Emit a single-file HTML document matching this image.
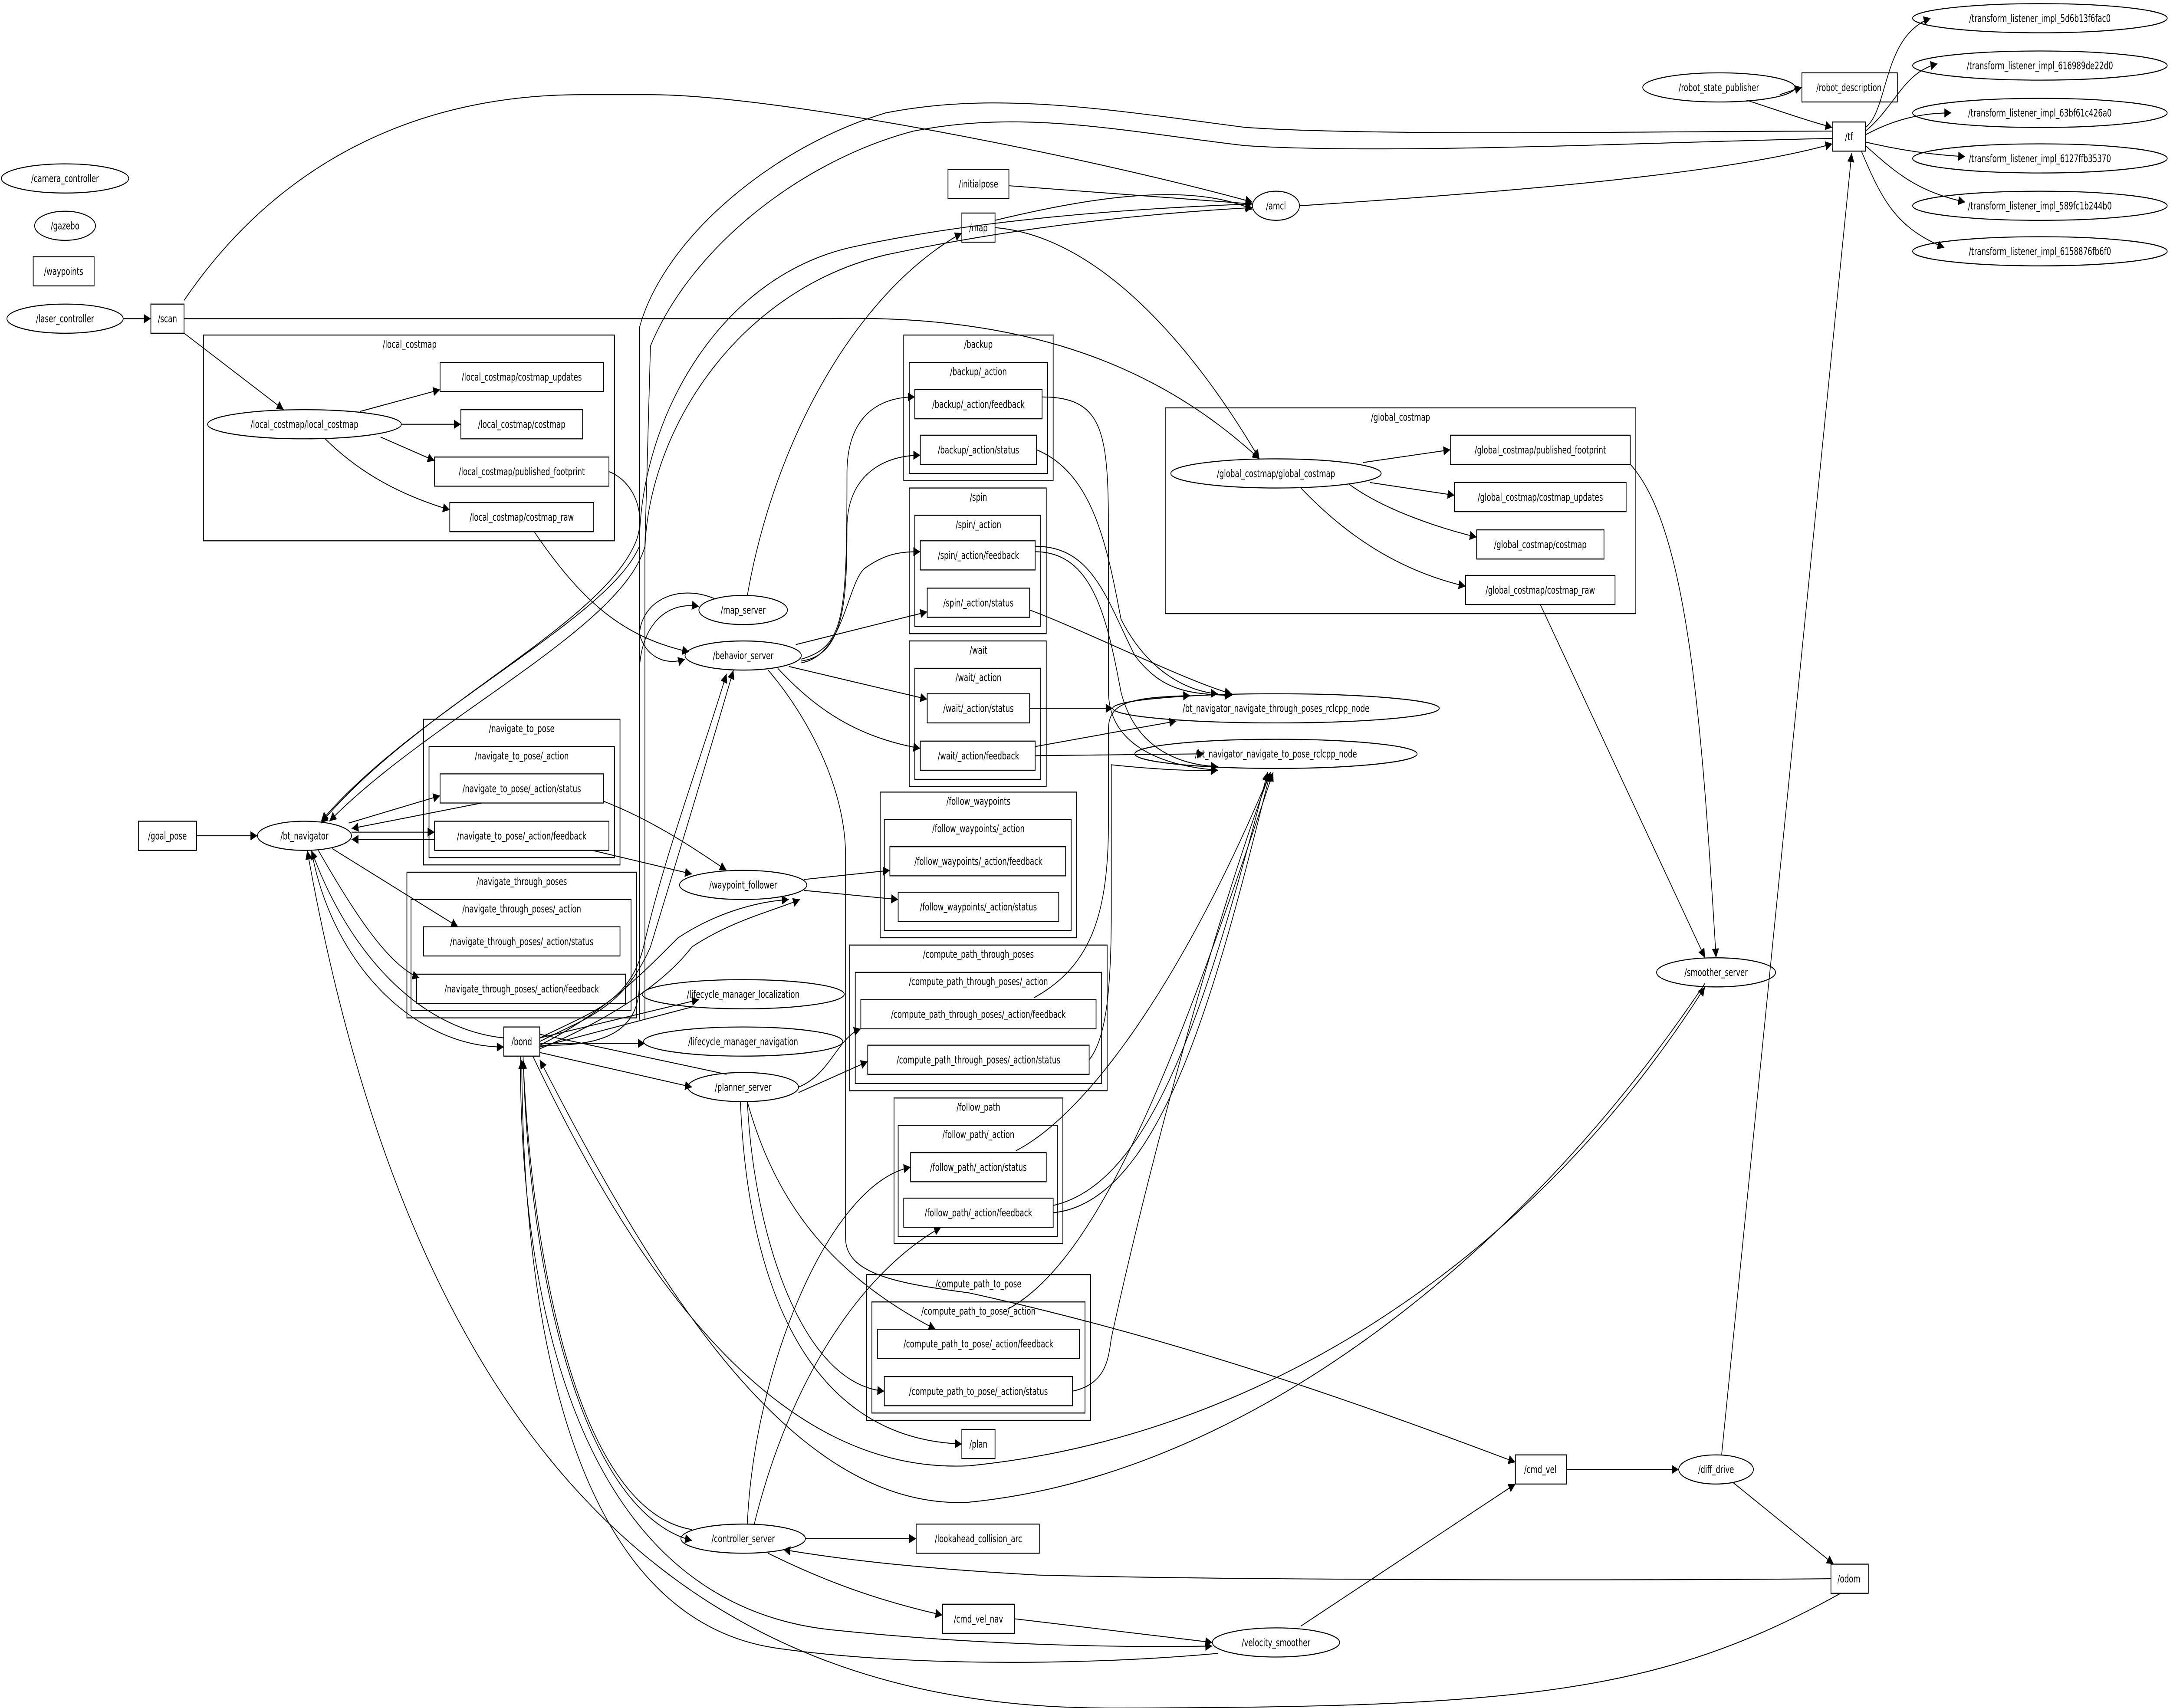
<!DOCTYPE html>
<html><head><meta charset="utf-8"><style>
html,body{margin:0;padding:0;background:#fff;width:100%;height:100%;overflow:hidden;}
svg{display:block;width:100vw;height:100vh;}
text{font-family:"DejaVu Sans Condensed","DejaVu Sans","Liberation Sans",sans-serif;font-stretch:condensed;font-size:5.8px;text-anchor:middle;fill:#000;}
.n{fill:none;stroke:#000;stroke-width:0.55;}
.e{fill:none;stroke:#000;stroke-width:0.5;}
.a{fill:none;stroke:#000;stroke-width:0.5;marker-end:url(#ar);}
</style></head><body>
<svg viewBox="0 0 1568 938" preserveAspectRatio="none" xmlns="http://www.w3.org/2000/svg">
<defs><marker id="ar" viewBox="0 0 10 10" refX="10" refY="5" markerWidth="7" markerHeight="5" markerUnits="userSpaceOnUse" orient="auto"><path d="M0,0L10,5L0,10z" fill="#000"/></marker></defs>
<rect width="1568" height="938" fill="#fff"/>

<g class="n">
<rect x="147" y="184" width="297" height="113"/>
<rect x="842" y="224" width="340" height="113"/>
<rect x="653" y="184" width="108" height="80"/><rect x="657" y="199" width="100" height="61"/>
<rect x="657" y="268" width="99" height="80"/><rect x="661" y="283" width="91" height="61"/>
<rect x="657" y="352" width="99" height="80"/><rect x="661" y="367" width="91" height="61"/>
<rect x="636" y="435" width="142" height="80"/><rect x="639" y="450" width="135" height="61"/>
<rect x="614" y="519" width="186" height="80"/><rect x="618" y="534" width="178" height="61"/>
<rect x="646" y="603" width="122" height="80"/><rect x="649" y="618" width="115" height="61"/>
<rect x="626" y="700" width="162" height="80"/><rect x="630" y="715" width="154" height="61"/>
<rect x="306" y="395" width="142" height="80"/><rect x="310" y="410" width="134" height="61"/>
<rect x="294" y="479" width="166" height="80"/><rect x="297" y="494" width="159" height="61"/>
</g>
<text x="296" y="191">/local_costmap</text>
<text x="1012" y="231">/global_costmap</text>
<text x="707" y="191">/backup</text><text x="707" y="206">/backup/_action</text>
<text x="707" y="275">/spin</text><text x="707" y="290">/spin/_action</text>
<text x="707" y="359">/wait</text><text x="707" y="374">/wait/_action</text>
<text x="707" y="442">/follow_waypoints</text><text x="707" y="457">/follow_waypoints/_action</text>
<text x="707" y="526">/compute_path_through_poses</text><text x="707" y="541">/compute_path_through_poses/_action</text>
<text x="707" y="610">/follow_path</text><text x="707" y="625">/follow_path/_action</text>
<text x="707" y="707">/compute_path_to_pose</text><text x="707" y="722">/compute_path_to_pose/_action</text>
<text x="377" y="402">/navigate_to_pose</text><text x="377" y="417">/navigate_to_pose/_action</text>
<text x="377" y="486">/navigate_through_poses</text><text x="377" y="501">/navigate_through_poses/_action</text>

<g class="n">
<ellipse cx="47" cy="98" rx="46" ry="8"/>
<ellipse cx="47" cy="124" rx="22" ry="8"/>
<ellipse cx="47" cy="175" rx="42" ry="8"/>
<ellipse cx="1242" cy="48" rx="55" ry="8"/>
<ellipse cx="922" cy="113" rx="17" ry="8"/>
<ellipse cx="220" cy="233" rx="70" ry="8"/>
<ellipse cx="537" cy="335" rx="32" ry="8"/>
<ellipse cx="537" cy="360" rx="42" ry="8"/>
<ellipse cx="220" cy="459" rx="34" ry="8"/>
<ellipse cx="537" cy="486" rx="46" ry="8"/>
<ellipse cx="537" cy="546" rx="73" ry="8"/>
<ellipse cx="537" cy="572" rx="72" ry="8"/>
<ellipse cx="537" cy="597" rx="40" ry="8"/>
<ellipse cx="537" cy="845" rx="45" ry="8"/>
<ellipse cx="922" cy="902" rx="46" ry="8"/>
<ellipse cx="922" cy="389" rx="118" ry="8"/>
<ellipse cx="922" cy="414" rx="102" ry="8"/>
<ellipse cx="922" cy="260" rx="76" ry="8"/>
<ellipse cx="1240" cy="534" rx="43" ry="8"/>
<ellipse cx="1240" cy="807" rx="27" ry="8"/>
<ellipse cx="1474" cy="10" rx="92" ry="8"/>
<ellipse cx="1474" cy="36" rx="92" ry="8"/>
<ellipse cx="1474" cy="62" rx="92" ry="8"/>
<ellipse cx="1474" cy="87" rx="92" ry="8"/>
<ellipse cx="1474" cy="113" rx="92" ry="8"/>
<ellipse cx="1474" cy="138" rx="92" ry="8"/>
</g>
<text x="47" y="100">/camera_controller</text>
<text x="47" y="126">/gazebo</text>
<text x="47" y="177">/laser_controller</text>
<text x="1242" y="50">/robot_state_publisher</text>
<text x="922" y="115">/amcl</text>
<text x="220" y="235">/local_costmap/local_costmap</text>
<text x="537" y="337">/map_server</text>
<text x="537" y="362">/behavior_server</text>
<text x="220" y="461">/bt_navigator</text>
<text x="537" y="488">/waypoint_follower</text>
<text x="537" y="548">/lifecycle_manager_localization</text>
<text x="537" y="574">/lifecycle_manager_navigation</text>
<text x="537" y="599">/planner_server</text>
<text x="537" y="847">/controller_server</text>
<text x="922" y="904">/velocity_smoother</text>
<text x="922" y="391">/bt_navigator_navigate_through_poses_rclcpp_node</text>
<text x="922" y="416">/bt_navigator_navigate_to_pose_rclcpp_node</text>
<text x="922" y="262">/global_costmap/global_costmap</text>
<text x="1240" y="536">/smoother_server</text>
<text x="1240" y="809">/diff_drive</text>
<text x="1474" y="12">/transform_listener_impl_5d6b13f6fac0</text>
<text x="1474" y="38">/transform_listener_impl_616989de22d0</text>
<text x="1474" y="64">/transform_listener_impl_63bf61c426a0</text>
<text x="1474" y="89">/transform_listener_impl_6127ffb35370</text>
<text x="1474" y="115">/transform_listener_impl_589fc1b244b0</text>
<text x="1474" y="140">/transform_listener_impl_6158876fb6f0</text>

<g class="n">
<rect x="24" y="141" width="44" height="16"/>
<rect x="109" y="167" width="24" height="16"/>
<rect x="1302" y="40" width="69" height="16"/>
<rect x="1324" y="67" width="24" height="16"/>
<rect x="685" y="93" width="44" height="16"/>
<rect x="695" y="117" width="24" height="16"/>
<rect x="100" y="451" width="42" height="16"/>
<rect x="364" y="564" width="26" height="16"/>
<rect x="695" y="785" width="24" height="16"/>
<rect x="662" y="837" width="89" height="16"/>
<rect x="681" y="881" width="52" height="16"/>
<rect x="1095" y="799" width="37" height="16"/>
<rect x="1323" y="859" width="27" height="16"/>
<rect x="318" y="199" width="118" height="16"/>
<rect x="333" y="225" width="88" height="16"/>
<rect x="314" y="251" width="126" height="16"/>
<rect x="325" y="276" width="104" height="16"/>
<rect x="1048" y="239" width="130" height="16"/>
<rect x="1051" y="265" width="124" height="16"/>
<rect x="1067" y="291" width="92" height="16"/>
<rect x="1059" y="316" width="108" height="16"/>
<rect x="661" y="214" width="92" height="16"/>
<rect x="665" y="239" width="84" height="16"/>
<rect x="665" y="297" width="83" height="16"/>
<rect x="670" y="323" width="74" height="16"/>
<rect x="670" y="381" width="74" height="16"/>
<rect x="665" y="407" width="83" height="16"/>
<rect x="643" y="465" width="127" height="16"/>
<rect x="649" y="490" width="116" height="16"/>
<rect x="622" y="549" width="170" height="16"/>
<rect x="627" y="574" width="160" height="16"/>
<rect x="658" y="633" width="98" height="16"/>
<rect x="653" y="658" width="108" height="16"/>
<rect x="634" y="730" width="146" height="16"/>
<rect x="639" y="756" width="136" height="16"/>
<rect x="318" y="425" width="118" height="16"/>
<rect x="314" y="451" width="126" height="16"/>
<rect x="306" y="509" width="142" height="16"/>
<rect x="301" y="535" width="151" height="16"/>
</g>
<text x="46" y="151">/waypoints</text>
<text x="121" y="177">/scan</text>
<text x="1336" y="50">/robot_description</text>
<text x="1336" y="77">/tf</text>
<text x="707" y="103">/initialpose</text>
<text x="707" y="127">/map</text>
<text x="121" y="461">/goal_pose</text>
<text x="377" y="574">/bond</text>
<text x="707" y="795">/plan</text>
<text x="707" y="847">/lookahead_collision_arc</text>
<text x="707" y="891">/cmd_vel_nav</text>
<text x="1113" y="809">/cmd_vel</text>
<text x="1336" y="869">/odom</text>
<text x="377" y="209">/local_costmap/costmap_updates</text>
<text x="377" y="235">/local_costmap/costmap</text>
<text x="377" y="261">/local_costmap/published_footprint</text>
<text x="377" y="286">/local_costmap/costmap_raw</text>
<text x="1113" y="249">/global_costmap/published_footprint</text>
<text x="1113" y="275">/global_costmap/costmap_updates</text>
<text x="1113" y="301">/global_costmap/costmap</text>
<text x="1113" y="326">/global_costmap/costmap_raw</text>
<text x="707" y="224">/backup/_action/feedback</text>
<text x="707" y="249">/backup/_action/status</text>
<text x="707" y="307">/spin/_action/feedback</text>
<text x="707" y="333">/spin/_action/status</text>
<text x="707" y="391">/wait/_action/status</text>
<text x="707" y="417">/wait/_action/feedback</text>
<text x="707" y="475">/follow_waypoints/_action/feedback</text>
<text x="707" y="500">/follow_waypoints/_action/status</text>
<text x="707" y="559">/compute_path_through_poses/_action/feedback</text>
<text x="707" y="584">/compute_path_through_poses/_action/status</text>
<text x="707" y="643">/follow_path/_action/status</text>
<text x="707" y="668">/follow_path/_action/feedback</text>
<text x="707" y="740">/compute_path_to_pose/_action/feedback</text>
<text x="707" y="766">/compute_path_to_pose/_action/status</text>
<text x="377" y="435">/navigate_to_pose/_action/status</text>
<text x="377" y="461">/navigate_to_pose/_action/feedback</text>
<text x="377" y="519">/navigate_through_poses/_action/status</text>
<text x="377" y="545">/navigate_through_poses/_action/feedback</text>

<path class="a" d="M89,175L109,175"/>
<path class="a" d="M133,165C200,90 300,52 420,52L470,52C560,52 780,85 905,111"/>
<path class="a" d="M133,175L600,175C760,172 850,210 910,252"/>
<path class="a" d="M133,183L205,225"/>
<path class="a" d="M260,226L318,214"/>
<path class="a" d="M290,233L333,233"/>
<path class="a" d="M275,240L314,253"/>
<path class="a" d="M235,241C260,260 290,272 325,280"/>
<path class="a" d="M1286,52L1302,48"/>
<path class="a" d="M1262,55C1290,62 1305,66 1324,70"/>
<path class="a" d="M1348,70C1365,60 1360,20 1395,10"/>
<path class="a" d="M1348,72C1370,58 1375,40 1400,35"/>
<path class="a" d="M1348,74C1370,65 1390,62 1410,62"/>
<path class="a" d="M1348,78C1370,82 1395,85 1420,86"/>
<path class="a" d="M1348,80C1370,95 1385,105 1420,111"/>
<path class="a" d="M1345,83C1360,110 1370,125 1405,136"/>
<path class="a" d="M939,113C1100,105 1250,95 1324,79"/>
<path class="a" d="M729,102C800,106 860,110 905,112"/>
<path class="a" d="M719,121C790,108 860,100 905,115"/>
<path class="a" d="M540,327C560,240 620,160 695,128"/>
<path class="a" d="M719,125C800,130 870,200 910,252"/>
<path class="a" d="M1324,72C1200,72 1000,75 900,70C800,60 720,50 640,62C560,80 480,130 462,180L462,300C440,340 300,390 232,451"/>
<path class="a" d="M1324,76C1200,78 1000,85 900,80C810,72 740,60 660,72C580,88 500,135 470,190L466,300C450,345 310,395 238,451"/>
<path class="a" d="M440,259C460,265 468,285 458,300C430,345 300,390 232,452"/>
<path class="a" d="M386,292C420,330 450,350 498,358"/>
<path class="a" d="M462,560L462,300C462,230 520,150 620,135C700,122 800,115 905,112"/>
<path class="a" d="M466,560L466,305C466,240 530,160 640,140C720,127 810,118 905,114"/>
<path class="a" d="M462,370C462,345 480,330 505,333"/>
<path class="e" d="M517,329C490,320 462,330 462,350"/>
<path class="a" d="M462,348C466,360 480,366 495,362"/>
<path class="a" d="M579,362C610,355 612,340 612,260C612,225 640,218 661,218"/>
<path class="a" d="M579,363C610,360 612,330 612,290C612,260 640,250 665,250"/>
<path class="a" d="M579,364C610,360 612,320 625,312C640,304 650,303 665,303"/>
<path class="a" d="M575,354L670,336"/>
<path class="a" d="M570,366L670,384"/>
<path class="a" d="M562,367C590,390 620,405 665,411"/>
<path class="a" d="M555,368C580,390 611,430 611,470L611,680C611,700 650,705 700,710C850,735 980,770 1095,803"/>
<path class="a" d="M390,572C420,560 450,555 470,520C490,470 510,420 530,368"/>
<path class="a" d="M390,570C430,555 455,550 465,520C480,470 505,420 525,370"/>
<path class="e" d="M390,574C440,575 462,565 462,540L462,380"/>
<path class="a" d="M390,576C440,560 480,540 500,520C530,505 560,500 578,494"/>
<path class="a" d="M390,574C440,555 470,530 490,515C520,500 550,495 570,494"/>
<path class="a" d="M390,570L505,549"/>
<path class="e" d="M500,553L390,575"/>
<path class="a" d="M390,573L466,573"/>
<path class="a" d="M390,578L500,597"/>
<path class="e" d="M525,590L390,568"/>
<path class="a" d="M753,218C800,218 801,240 801,300L801,380C801,405 830,420 880,423"/>
<path class="a" d="M749,247C790,260 800,300 810,340C830,370 860,380 880,381"/>
<path class="a" d="M748,300C790,300 800,330 820,360C840,380 860,381 890,382"/>
<path class="a" d="M748,303C790,303 800,340 810,380C820,410 850,420 880,421"/>
<path class="a" d="M744,335C780,345 860,375 890,381"/>
<path class="a" d="M744,389L804,389"/>
<path class="a" d="M748,410L850,396"/>
<path class="a" d="M748,415L870,414"/>
<path class="a" d="M747,548C790,530 801,500 801,450L801,400C801,385 820,383 860,382"/>
<path class="a" d="M787,582C800,570 803,540 803,500L803,420C803,420 850,424 880,423"/>
<path class="a" d="M734,632C790,610 860,530 918,424"/>
<path class="a" d="M761,662C830,650 870,560 916,424"/>
<path class="a" d="M761,666C840,660 880,540 918,424"/>
<path class="a" d="M728,719C800,690 860,560 920,424"/>
<path class="a" d="M775,764C800,760 801,745 803,735C830,640 880,500 918,424"/>
<path class="a" d="M581,483L643,478"/>
<path class="a" d="M581,489L649,494"/>
<path class="a" d="M436,440C470,450 500,465 525,478"/>
<path class="a" d="M428,467L500,480"/>
<path class="a" d="M142,459L186,459"/>
<path class="a" d="M252,452L318,437"/>
<path class="a" d="M348,441L254,455"/>
<path class="a" d="M314,461L254,461"/>
<path class="a" d="M254,457L314,457"/>
<path class="a" d="M240,466L331,509"/>
<path class="a" d="M230,467C255,500 280,530 303,537"/>
<path class="a" d="M225,467C240,530 300,575 364,575"/>
<path class="a" d="M364,570C300,565 250,520 225,467"/>
<path class="a" d="M577,597C600,590 605,570 622,565"/>
<path class="a" d="M577,600L627,583"/>
<path class="a" d="M540,605C560,660 600,700 676,730"/>
<path class="a" d="M540,605C545,680 580,760 639,764"/>
<path class="a" d="M535,605C540,700 580,790 695,793"/>
<path class="a" d="M540,837C545,750 600,650 658,641"/>
<path class="a" d="M545,837C570,760 620,700 680,674"/>
<path class="a" d="M582,845L662,845"/>
<path class="a" d="M555,853C600,870 640,880 681,887"/>
<path class="a" d="M1323,867C1200,868 900,868 750,865C680,862 620,858 566,851"/>
<path class="a" d="M733,889L876,902"/>
<path class="a" d="M940,893L1095,815"/>
<path class="a" d="M1132,807L1213,807"/>
<path class="a" d="M1252,814L1325,859"/>
<path class="a" d="M1244,799L1338,84"/>
<path class="a" d="M1330,875C1200,930 1100,938 800,938C500,938 300,800 222,467"/>
<path class="a" d="M378,580C382,700 420,830 500,846"/>
<path class="a" d="M500,840C420,830 385,700 378,582"/>
<path class="a" d="M376,580C376,720 420,880 600,895C700,903 800,905 876,904"/>
<path class="a" d="M880,908C780,915 650,915 560,905C430,890 378,760 377,582"/>
<path class="a" d="M385,580C460,700 560,810 700,805C900,790 1100,700 1232,542"/>
<path class="a" d="M1232,540C1100,690 900,810 700,825C570,830 470,700 390,582"/>
<path class="a" d="M985,254L1048,247"/>
<path class="a" d="M990,265L1051,272"/>
<path class="a" d="M975,266C1000,280 1040,290 1067,295"/>
<path class="a" d="M940,268C980,300 1020,315 1059,322"/>
<path class="a" d="M1113,332L1232,526"/>
<path class="a" d="M1178,255C1220,290 1230,400 1240,526"/>
</svg>
</body></html>
